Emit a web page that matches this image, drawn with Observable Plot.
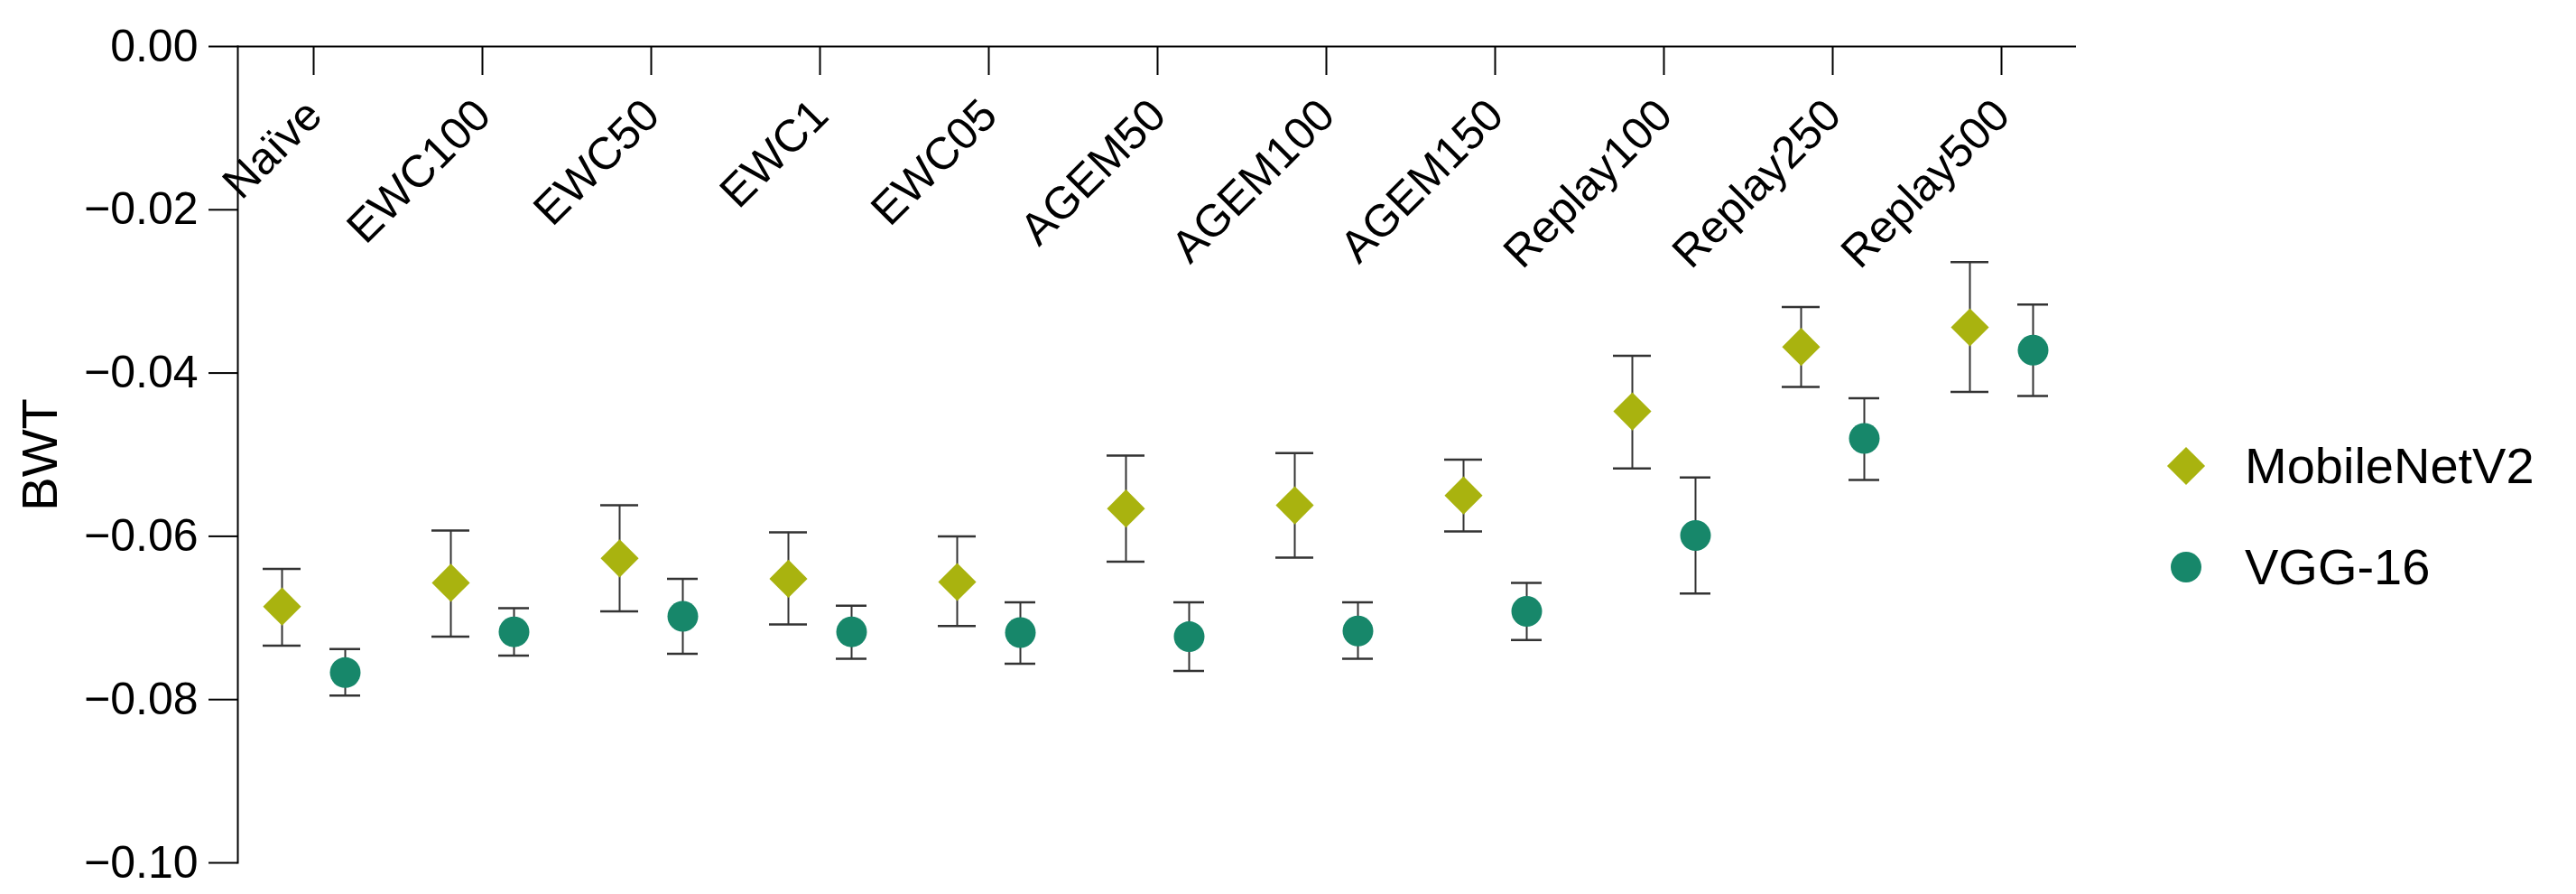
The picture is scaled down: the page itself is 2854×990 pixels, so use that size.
<!DOCTYPE html>
<html>
<head>
<meta charset="utf-8">
<script src="https://cdn.jsdelivr.net/npm/d3@7"></script>
<script src="https://cdn.jsdelivr.net/npm/@observablehq/plot@0.6"></script>
<style>
  html, body { margin: 0; padding: 0; background: #fff; }
  #wrap { position: relative; width: 2854px; height: 990px; font-family: "Liberation Sans", Arial, sans-serif; }
  #legend { position: absolute; left: 2390px; top: 484px; }
  .item { display: flex; align-items: center; height: 64px; margin-bottom: 48px; }
  .item svg { width: 64px; height: 64px; margin-right: 33px; }
  .item span { font-size: 56px; color: #000; line-height: 64px; }
</style>
</head>
<body>
<div id="wrap"><div id="legend"></div></div>
<script>
const categories = ["Naïve", "EWC100", "EWC50", "EWC1", "EWC05", "AGEM50", "AGEM100", "AGEM150", "Replay100", "Replay250", "Replay500"];
const seriesNames = ["MobileNetV2", "VGG-16"];
const seriesColors = ["#a9b30f", "#17876a"];
const mobileMean = [-0.0686, -0.0657, -0.0627, -0.0652, -0.0656, -0.0566, -0.0562, -0.0550, -0.0447, -0.0368, -0.0344];
const mobileHi   = [-0.0640, -0.0593, -0.0562, -0.0595, -0.0600, -0.0501, -0.0498, -0.0506, -0.0379, -0.0319, -0.0264];
const mobileLo   = [-0.0734, -0.0723, -0.0692, -0.0708, -0.0710, -0.0631, -0.0626, -0.0594, -0.0517, -0.0417, -0.0423];
const vggMean = [-0.0767, -0.0717, -0.0698, -0.0717, -0.0718, -0.0723, -0.0716, -0.0692, -0.0599, -0.0480, -0.0372];
const vggHi   = [-0.0738, -0.0688, -0.0652, -0.0685, -0.0681, -0.0681, -0.0681, -0.0657, -0.0528, -0.0431, -0.0316];
const vggLo   = [-0.0795, -0.0746, -0.0744, -0.0750, -0.0756, -0.0765, -0.0750, -0.0727, -0.0670, -0.0531, -0.0428];
const yTicks = [0, -0.02, -0.04, -0.06, -0.08, -0.10];

const mobile = categories.map((c, i) => ({cat: c, mean: mobileMean[i], lo: mobileLo[i], hi: mobileHi[i]}));
const vgg = categories.map((c, i) => ({cat: c, mean: vggMean[i], lo: vggLo[i], hi: vggHi[i]}));

const W = 2854, H = 990, mT = 51, mB = 35, mL = 263, mR = 554;
const innerH = H - mT - mB;
const off = 35;
const barColor = "#333";

function errorMarks(data, dx, half) {
  return [
    Plot.ruleX(data, {x: "cat", y1: "lo", y2: "hi", dx, stroke: barColor, strokeWidth: 2}),
    Plot.ruleY(data, {y: "hi", x1: "cat", x2: "cat", dx, insetLeft: -half, insetRight: -half, stroke: barColor, strokeWidth: 2.5}),
    Plot.ruleY(data, {y: "lo", x1: "cat", x2: "cat", dx, insetLeft: -half, insetRight: -half, stroke: barColor, strokeWidth: 2.5})
  ];
}

const chart = Plot.plot({
  width: W, height: H,
  marginTop: mT, marginBottom: mB, marginLeft: mL, marginRight: mR,
  style: {fontFamily: "Liberation Sans, Arial, sans-serif", fontSize: "50px", background: "#fff", color: "#000"},
  x: {type: "point", domain: categories, padding: 0.44, axis: null},
  y: {domain: [-0.1, 0], axis: null},
  marks: [
    Plot.frame({anchor: "left", stroke: "#000", strokeWidth: 2}),
    Plot.ruleY([0], {stroke: "#000", strokeWidth: 2}),
    Plot.axisY({ticks: yTicks, tickFormat: d3.format(".2f"), tickSize: 32, tickPadding: 12, fontSize: 50, strokeWidth: 2, label: null}),
    Plot.ruleX(categories, {x: d => d, insetBottom: innerH - 32, stroke: "#000", strokeWidth: 2}),
    Plot.text(categories, {x: d => d, frameAnchor: "top", rotate: -45, textAnchor: "end", lineAnchor: "bottom", dx: 12, dy: 79, fontSize: 50, fill: "#000"}),
    Plot.text(["BWT"], {frameAnchor: "left", rotate: -90, textAnchor: "middle", lineAnchor: "middle", dx: -(mL - 45), fontSize: 56, fill: "#000"}),
    ...errorMarks(mobile, -off, 21),
    ...errorMarks(vgg, off, 17),
    Plot.dot(mobile, {x: "cat", y: "mean", dx: -off, symbol: "diamond2", r: 19, fill: seriesColors[0], stroke: "none"}),
    Plot.dot(vgg, {x: "cat", y: "mean", dx: off, symbol: "circle", r: 17, fill: seriesColors[1], stroke: "none"})
  ]
});
document.getElementById("wrap").prepend(chart);

// legend
const legend = document.getElementById("legend");
const symbols = [d3.symbolDiamond2, d3.symbolCircle];
const sizes = [Math.PI * 19 * 19, Math.PI * 17 * 17];
seriesNames.forEach((name, i) => {
  const item = document.createElement("div");
  item.className = "item";
  const svg = d3.create("svg").attr("viewBox", "-32 -32 64 64");
  svg.append("path").attr("d", d3.symbol(symbols[i], sizes[i])()).attr("fill", seriesColors[i]);
  item.appendChild(svg.node());
  const span = document.createElement("span");
  span.textContent = name;
  item.appendChild(span);
  legend.appendChild(item);
});
</script>
</body>
</html>
